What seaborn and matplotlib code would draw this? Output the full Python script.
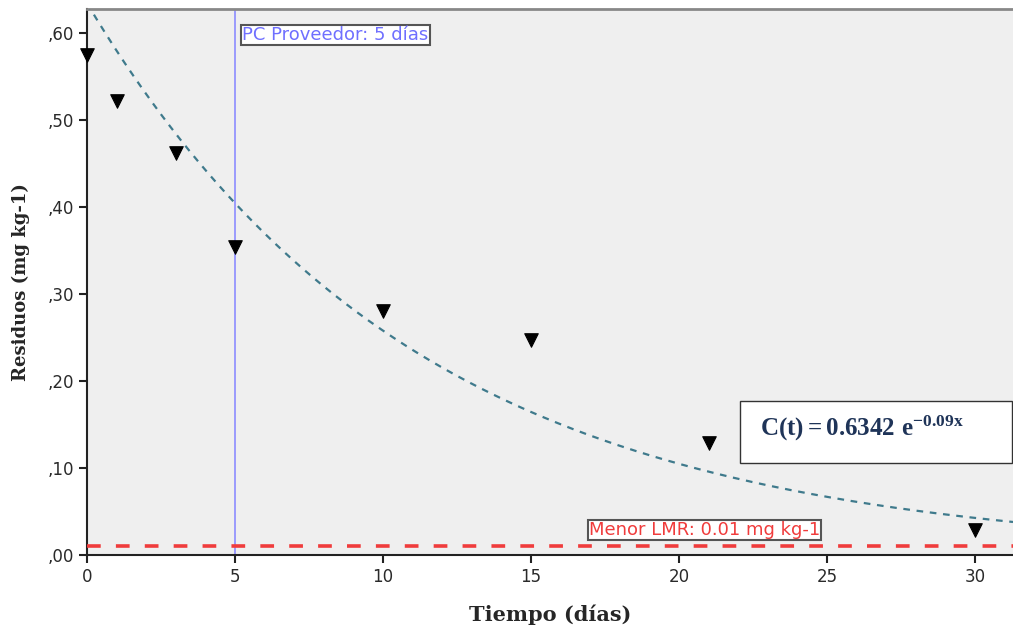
import numpy as np
import pandas as pd
import matplotlib
matplotlib.use("Agg")
import matplotlib.pyplot as plt
import seaborn as sns

# Data
dias = [0, 1, 3, 5, 10, 15, 21, 30]
residuos = [0.575, 0.522, 0.462, 0.354, 0.280, 0.247, 0.129, 0.029]
c0 = 0.6342
k = 0.09
lmr = 0.01
pc = 5
xticks = [0, 5, 10, 15, 20, 25, 30]
yticks = [0.0, 0.1, 0.2, 0.3, 0.4, 0.5, 0.6]
ytick_labels = [",00", ",10", ",20", ",30", ",40", ",50", ",60"]

sns.set_style("white")
plt.rcParams['font.family'] = ['DejaVu Sans']
plt.rcParams['mathtext.fontset'] = 'custom'
plt.rcParams['mathtext.rm'] = 'Liberation Serif:bold'
plt.rcParams['mathtext.bf'] = 'Liberation Serif:bold'
plt.rcParams['mathtext.it'] = 'Liberation Serif:bold'

fig = plt.figure(figsize=(10.13, 6.37), dpi=100)
ax = fig.add_axes([0.0859, 0.1287, 0.9141, 0.8572])
ax.set_facecolor("#efefef")

xmin, xmax = 0, 31.28
ymin, ymax = 0, 0.6276

# fitted curve
xs = np.linspace(xmin, xmax, 300)
fit = pd.DataFrame({"t": xs, "c": c0 * np.exp(-k * xs)})
sns.lineplot(data=fit, x="t", y="c", ax=ax, color="#3f7a8c", lw=1.6,
             linestyle=(0, (3, 3)), zorder=3)

# points
df = pd.DataFrame({"t": dias, "r": residuos})
sns.scatterplot(data=df, x="t", y="r", ax=ax, marker="v", s=95,
                color="black", edgecolor="black", zorder=5, clip_on=False)

# reference lines
ax.axhline(lmr, color="#f03c3c", lw=2.6, linestyle=(0, (3.8, 4.2)), zorder=4)
ax.axvline(pc, color="#8c8cff", lw=1.2, zorder=2)

ax.text(5.25, 0.598, "PC Proveedor: 5 días", color="#6f6fff", fontsize=13,
        va="center", ha="left",
        bbox=dict(boxstyle="square,pad=0.06", fc="white", ec="#555555", lw=1.5))
ax.text(16.95, 0.0287, "Menor LMR: 0.01 mg kg-1", color="#f03c3c", fontsize=13,
        va="center", ha="left",
        bbox=dict(boxstyle="square,pad=0.06", fc="white", ec="#555555", lw=1.5))

# equation box
fig.patches.append(plt.Rectangle((740 / 1013, 1 - 463 / 637), 272 / 1013, 62 / 637,
                                 transform=fig.transFigure, fc="white",
                                 ec="#333333", lw=1.0, zorder=10))
fig.text(760 / 1013, 1 - 428 / 637, r"$\mathbf{C(t) = 0.6342\ e^{-0.09x}}$",
         color="#1f3458", fontsize=18,
         va="center", ha="left", zorder=11)

ax.set_xlim(xmin, xmax)
ax.set_ylim(ymin, ymax)
ax.set_xticks(xticks)
ax.set_xticklabels([str(v) for v in xticks])
ax.set_yticks(yticks)
ax.set_yticklabels(ytick_labels)
ax.tick_params(axis="both", direction="out", length=6, width=1.5, color="#222222",
               labelsize=12, labelcolor="#2a2a2a", bottom=True, left=True, pad=3)

for s in ["left", "bottom"]:
    ax.spines[s].set_color("#222222")
    ax.spines[s].set_linewidth(1.5)
ax.spines["top"].set_color("#888888")
ax.spines["top"].set_linewidth(2)
ax.spines["right"].set_visible(False)

ax.set_xlabel("Tiempo (días)", fontsize=15, fontweight="bold",
              family="DejaVu Serif", labelpad=14)
ax.set_ylabel("Residuos (mg kg-1)", fontsize=13, fontweight="bold",
              family="DejaVu Serif", labelpad=13)

fig.savefig("out.png", dpi=100)
